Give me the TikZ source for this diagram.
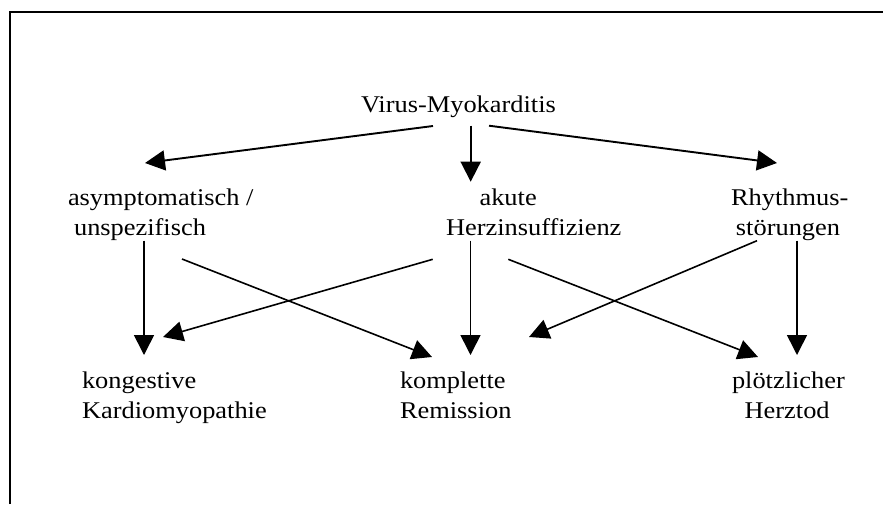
\documentclass[tikz,border=0pt]{standalone}
\usepackage{fontspec}
\setmainfont{Liberation Serif}
\usetikzlibrary{arrows.meta}
\newcommand{\twolines}[2]{\scalebox{1.1}[1]{\vtop{\baselineskip=30pt\lineskiplimit=-10pt\hbox{#1}\hbox{#2}}}}
\newcommand{\oneline}[1]{\scalebox{1.1}[1]{#1}}
\begin{document}
\begin{tikzpicture}[x=1pt,y=-1pt,
  lbl/.style={anchor=base west,inner sep=0pt,outer sep=0pt,font=\fontsize{24}{30}\selectfont},
  flow/.style={-{Triangle[length=20pt,width=20pt]},line width=1.6pt},
  topflow/.style={flow,line width=1.9pt},
  frame/.style={line width=2pt}]
\useasboundingbox (0,0) rectangle (883,504);
% frame (open towards right and bottom)
\draw[frame] (10,504) -- (10,11.5) -- (883,11.5);

% labels
\node[lbl] (virus) at (361,112) {\oneline{Virus-Myokarditis}};
\node[lbl] (asym)  at (68,205)  {\twolines{asymptomatisch /}{\hspace*{5.5pt}unspezifisch}};
\node[lbl] (akut)  at (446,205) {\twolines{\hspace*{30.5pt}akute}{Herzinsuffizienz}};
\node[lbl] (rhyt)  at (731,205) {\twolines{Rhythmus-}{\hspace*{4.5pt}störungen}};
\node[lbl] (kong)  at (82,388)  {\twolines{kongestive}{Kardiomyopathie}};
\node[lbl] (kompl) at (400,388) {\twolines{komplette}{Remission}};
\node[lbl] (ploetz) at (732,388) {\twolines{plötzlicher}{\hspace*{11.5pt}Herztod}};

% connector ends
\coordinate (vL) at (433,126);    \coordinate (asymT) at (145,163);
\coordinate (vM) at (470.7,125.7); \coordinate (akutT) at (470.7,181.7);
\coordinate (vR) at (489,125.7);  \coordinate (rhytT) at (777,163);
\coordinate (asymB) at (144,240.7); \coordinate (kongT) at (144,355);
\coordinate (asymR) at (182,259);   \coordinate (komplTL) at (432,357);
\coordinate (akutL) at (432.7,259.3); \coordinate (kongTR) at (163,337);
\coordinate (akutB) at (470.5,240.7); \coordinate (komplT) at (470.5,355);
\coordinate (akutR) at (508.3,259.3); \coordinate (ploetzTL) at (758,357);
\coordinate (rhytL) at (757,240.7);  \coordinate (komplTR) at (529,337);
\coordinate (rhytB) at (797,240.7);  \coordinate (ploetzT) at (797,355);

% arrows
\draw[topflow] (vL) -- (asymT);
\draw[topflow] (vM) -- (akutT);
\draw[topflow] (vR) -- (rhytT);
\draw[flow] (asymB) -- (kongT);
\draw[flow] (asymR) -- (komplTL);
\draw[flow] (akutL) -- (kongTR);
\draw[flow] (akutB) -- (komplT);
\draw[flow] (akutR) -- (ploetzTL);
\draw[flow] (rhytL) -- (komplTR);
\draw[flow] (rhytB) -- (ploetzT);
\end{tikzpicture}
\end{document}
